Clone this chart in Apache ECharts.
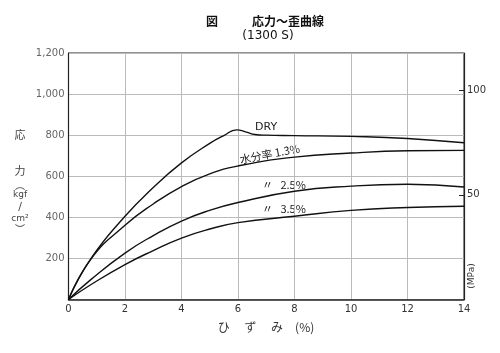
<!DOCTYPE html>
<html>
<head>
<meta charset="utf-8">
<script src="https://cdn.jsdelivr.net/npm/echarts@6/dist/echarts.min.js"></script>
<style>
html,body{margin:0;padding:0;background:#fff;}
#main{width:500px;height:353px;}
</style>
</head>
<body>
<div id="main"></div>
<script>
// ひずみ (%) と 応力 (kgf/cm2)
var dryX   = [0, 0.8, 2, 3, 4, 5, 5.5, 5.95, 6.3, 6.6, 7, 8, 10, 12, 14];
var dryY   = [0, 200, 405, 545, 665, 760, 798, 826, 815, 803, 800, 798, 794, 784, 763];
var wetX   = [0, 0.8, 2, 3, 4, 5, 6, 8, 10, 12, 14];
var wet13Y = [0, 198, 361, 465, 550, 612, 650, 693, 713, 724, 726];
var wet25Y = [0, 98, 226, 311, 382, 434, 472, 527, 552, 561, 548];
var wet35Y = [0, 73, 170, 238, 299, 343, 374, 405, 434, 448, 454];
var xTicks = [0, 2, 4, 6, 8, 10, 12, 14];
var mpaTicks = [50, 100];
var KGF_PER_MPA = 10.197;

function pairs(xs, ys){
  var out = [];
  for(var i = 0; i < xs.length; i++){
    out.push([xs[i], ys[i]]);
  }
  return out;
}

var jp = '"Noto Sans CJK JP", sans-serif';
var num = '"DejaVu Sans", sans-serif';

var chart = echarts.init(document.getElementById('main'));

function curve(name, data){
  return {
    name: name,
    type: 'line',
    data: data,
    smooth: 0.5,
    symbol: 'none',
    lineStyle: {color: '#111', width: 1.4},
    animation: false
  };
}

var option = {
  backgroundColor: '#fff',
  animation: false,
  grid: {
    left: 68.5, right: 36, top: 53, bottom: 53.5,
    show: true, borderColor: '#222', borderWidth: 1
  },
  xAxis: {
    type: 'value', min: 0, max: 14, interval: 2,
    axisLine: {lineStyle: {color: '#222', width: 1.5}},
    axisTick: {show: false},
    axisLabel: {
      color: '#333', fontFamily: num, fontSize: 10, margin: 5,
      customValues: xTicks
    },
    splitLine: {lineStyle: {color: '#bbb', width: 1}}
  },
  yAxis: [{
    type: 'value', min: 0, max: 1200, interval: 200,
    axisLine: {show: true, lineStyle: {color: '#222', width: 1.2}},
    axisTick: {show: false},
    axisLabel: {
      color: '#666', fontFamily: num, fontSize: 10, margin: 4,
      formatter: function(v){
        if(v === 0) return '';
        return v >= 1000 ? (Math.floor(v/1000) + ',' + ('00' + (v % 1000)).slice(-3)) : String(v);
      }
    },
    splitLine: {lineStyle: {color: '#bbb', width: 1}}
  }, {
    type: 'value', min: 0, max: 1200 / KGF_PER_MPA, position: 'right',
    axisLine: {show: true, lineStyle: {color: '#222', width: 1.2}},
    axisTick: {show: true, inside: true, length: 5, customValues: mpaTicks, lineStyle: {color: '#222'}},
    axisLabel: {color: '#333', fontFamily: num, fontSize: 10, margin: 3, customValues: mpaTicks},
    splitLine: {show: false}
  }],
  series: [
    curve('DRY', pairs(dryX, dryY)),
    curve('1.3%', pairs(wetX, wet13Y)),
    curve('2.5%', pairs(wetX, wet25Y)),
    curve('3.5%', pairs(wetX, wet35Y))
  ],
  graphic: [
    // タイトル
    {type: 'text', x: 212, y: 21, style: {text: '図', font: 'bold 12px ' + jp, fill: '#111', align: 'center', verticalAlign: 'middle'}},
    {type: 'text', x: 252, y: 21, style: {text: '応力～歪曲線', font: 'bold 12px ' + jp, fill: '#111', align: 'left', verticalAlign: 'middle'}},
    {type: 'text', x: 268, y: 36, style: {text: '(1300 S)', font: '12px ' + num, fill: '#111', align: 'center', verticalAlign: 'middle'}},
    // 曲線ラベル
    {type: 'text', left: 255, top: 122, style: {text: 'DRY', font: '11px ' + num, fill: '#222'}},
    {type: 'text', x: 241, y: 165, rotation: 0.19, style: {text: '水分率 1.3%', font: '11px ' + jp, fill: '#222', textVerticalAlign: 'bottom'}},
    {type: 'text', left: 262, top: 179, style: {text: '〃   2.5%', font: '11px ' + jp, fill: '#222'}},
    {type: 'text', left: 262, top: 203, style: {text: '〃   3.5%', font: '11px ' + jp, fill: '#222'}},
    // 縦軸名
    {type: 'text', x: 20, y: 135, style: {text: '応', font: '11px ' + jp, fill: '#444', align: 'center', verticalAlign: 'middle'}},
    {type: 'text', x: 20, y: 171, style: {text: '力', font: '11px ' + jp, fill: '#444', align: 'center', verticalAlign: 'middle'}},
    {type: 'text', x: 20, y: 185, style: {text: '︵', font: '10px ' + jp, fill: '#444', align: 'center', verticalAlign: 'middle'}},
    {type: 'text', x: 20, y: 195, style: {text: 'kgf', font: '9px ' + num, fill: '#444', align: 'center', verticalAlign: 'middle'}},
    {type: 'text', x: 20, y: 207, style: {text: '/', font: '11px ' + num, fill: '#444', align: 'center', verticalAlign: 'middle'}},
    {type: 'text', x: 20, y: 219, style: {text: 'cm²', font: '9px ' + num, fill: '#444', align: 'center', verticalAlign: 'middle'}},
    {type: 'text', x: 20, y: 229, style: {text: '︶', font: '10px ' + jp, fill: '#444', align: 'center', verticalAlign: 'middle'}},
    // 横軸名
    {type: 'text', x: 266, y: 327, style: {text: 'ひ　 ず　 み　(%)', font: '12px ' + jp, fill: '#333', align: 'center', verticalAlign: 'middle'}},
    // 右軸単位
    {type: 'text', x: 472, y: 276, rotation: Math.PI / 2, style: {text: '(MPa)', font: '9px ' + num, fill: '#333', align: 'center', verticalAlign: 'middle'}}
  ]
};
chart.setOption(option);
</script>
</body>
</html>
